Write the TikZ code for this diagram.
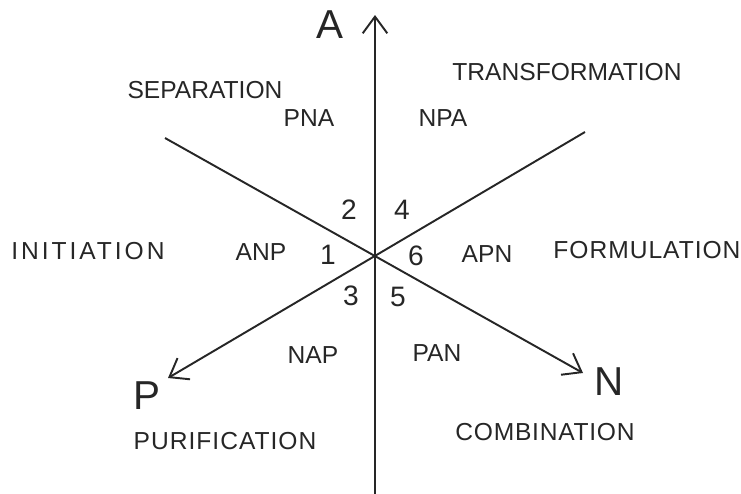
\documentclass[tikz,border=0pt]{standalone}
\usepackage{fontspec}
\setmainfont{Liberation Sans}
\usetikzlibrary{arrows.meta}
\begin{document}
\begin{tikzpicture}[x=0.02cm,y=-0.02cm,
  axis/.style={line width=1.1pt,black!85},
  tip/.style={-{Straight Barb[length=9.5pt,width=14pt,line width=1.1pt]}},
  word/.style={font=\fontsize{14}{16}\selectfont,text=black!85},
  code/.style={font=\fontsize{14}{16}\selectfont,text=black!85},
  num/.style={font=\fontsize{16}{18}\selectfont,text=black!85},
  pole/.style={font=\fontsize{23}{26}\selectfont,text=black!85}]
% Background
\useasboundingbox (0,0) rectangle (741,494);
% Axes
\coordinate (o) at (375,254);
\coordinate (atip) at (375,15);
\coordinate (bot) at (375,494);
\coordinate (ul) at (165,138);
\coordinate (ntip) at (583,373);
\coordinate (ur) at (585,132);
\coordinate (ptip) at (168,378);
\draw[axis,tip] (bot) -- (atip);
\draw[axis,tip] (ul) -- (ntip);
\draw[axis,tip] (ur) -- (ptip);
% Poles
\node[pole] (a) at (330,25) {A};
\node[pole] (p) at (147,396) {P};
\node[pole] (n) at (609,382) {N};
% Sectors
\node[word] (sep) at (205,90) {SEPARATION};
\node[word] (trans) at (567,72) {TRANSFORMATION};
\node[word] (init) at (88,251) {\addfontfeatures{LetterSpace=12}INITIATION};
\node[word] (form) at (647,250) {\addfontfeatures{LetterSpace=4}FORMULATION};
\node[word] (pur) at (225,441) {\addfontfeatures{LetterSpace=4}PURIFICATION};
\node[word] (comb) at (545,432) {\addfontfeatures{LetterSpace=3}COMBINATION};
% Orderings
\node[code] (pna) at (309,118) {PNA};
\node[code] (npa) at (443,118) {NPA};
\node[code] (anp) at (261,252) {ANP};
\node[code] (apn) at (487,254) {APN};
\node[code] (nap) at (313,355) {NAP};
\node[code] (pan) at (437,353) {PAN};
% Numbers
\node[num] (n1) at (328,255) {1};
\node[num] (n2) at (349,210) {2};
\node[num] (n3) at (351,296) {3};
\node[num] (n4) at (402,210) {4};
\node[num] (n5) at (398,297) {5};
\node[num] (n6) at (416,256) {6};
\end{tikzpicture}
\end{document}
